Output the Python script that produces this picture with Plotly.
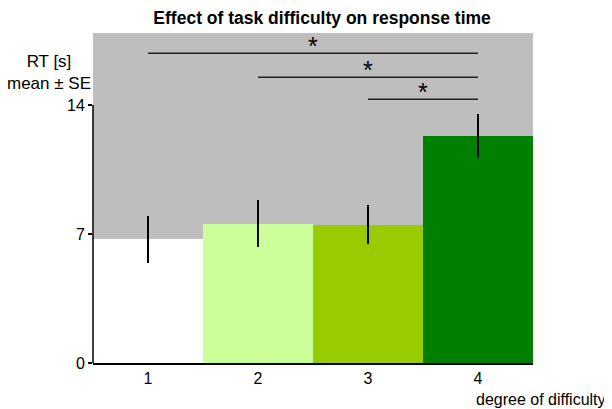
import plotly.graph_objects as go

categories = [1, 2, 3, 4]
means = [6.7, 7.55, 7.5, 12.3]
se = [1.25, 1.27, 1.05, 1.2]
bar_colors = ["#ffffff", "#ccff99", "#99cc00", "#008000"]
tick_vals_y = [0, 7, 14]
sig_pairs = [(1, 4), (2, 4), (3, 4)]
sig_levels = [16.8, 15.5, 14.3]
sig_labels = ["*", "*", "*"]

fig = go.Figure()
fig.add_trace(go.Bar(
    x=categories, y=means, marker=dict(color=bar_colors, line=dict(width=0)),
    error_y=dict(type="data", array=se, visible=True, color="black", thickness=2, width=0),
    showlegend=False,
))
for (a, b), lvl, lab in zip(sig_pairs, sig_levels, sig_labels):
    fig.add_trace(go.Scatter(x=[a, b], y=[lvl, lvl], mode="lines",
                             line=dict(color="#222222", width=1.5), showlegend=False,
                             hoverinfo="skip"))
    fig.add_annotation(x=(a + b) / 2, y=lvl, text=lab, showarrow=False,
                       yanchor="bottom", yshift=-9, font=dict(size=25, color="black"))

fig.add_shape(type="line", xref="paper", yref="y", x0=0, x1=0, y0=0, y1=max(tick_vals_y),
              line=dict(color="black", width=1.5))

fig.update_layout(
    width=604, height=401,
    margin=dict(l=85, r=79, t=25, b=46),
    paper_bgcolor="white", plot_bgcolor="#bebebe",
    bargap=0,
    font=dict(family="Liberation Sans, Arial, sans-serif", size=15, color="black"),
    title=dict(text="<b>Effect of task difficulty on response time</b>", x=0.52, xanchor="center",
               y=0.975, yanchor="middle", font=dict(size=17.5)),
    xaxis=dict(range=[0.5, 4.5], tickvals=categories, ticktext=[str(c) for c in categories],
               showline=True, linecolor="black", linewidth=1.5, showgrid=False, zeroline=False,
               ticks="", tickfont=dict(size=16)),
    yaxis=dict(range=[0, 17.9], tickvals=tick_vals_y, showline=False, showgrid=False,
               zeroline=False, ticks="outside", ticklen=4, tickcolor="black", tickwidth=1.5,
               tickfont=dict(size=16)),
)
fig.add_annotation(xref="paper", yref="paper", x=0.0, y=0.88, xanchor="right", yanchor="middle",
                   text="RT [s]<br>mean ± SE", showarrow=False, align="center",
                   font=dict(size=17))
fig.add_annotation(xref="paper", yref="paper", x=1.17, y=-0.112, xanchor="right", yanchor="middle",
                   text="degree of difficulty", showarrow=False, font=dict(size=16))

fig.write_html("out.html")
